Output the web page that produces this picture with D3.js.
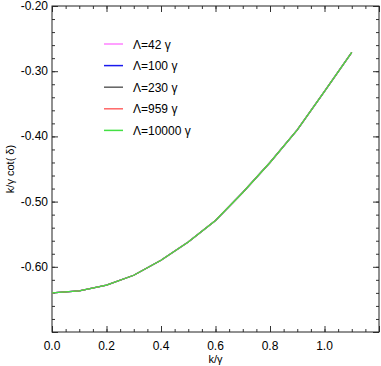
<!DOCTYPE html>
<html>
<head>
<meta charset="utf-8">
<script src="https://cdn.jsdelivr.net/npm/d3@7"></script>
<style>
  body { margin: 0; background: #fff; }
  text { font-family: "Liberation Sans", Arial, sans-serif; }
</style>
</head>
<body>
<script>
// k/gamma values
var kValues = [0.0, 0.1, 0.2, 0.3, 0.4, 0.5, 0.6, 0.7, 0.8, 0.9, 1.0, 1.1];
// k/gamma cot(delta), curves for each cutoff lie on top of each other
var curve42 = [-0.640, -0.637, -0.628, -0.613, -0.590, -0.562, -0.529, -0.486, -0.440, -0.390, -0.331, -0.271];
var curve100 = [-0.640, -0.637, -0.628, -0.613, -0.590, -0.562, -0.529, -0.486, -0.440, -0.390, -0.331, -0.271];
var curve230 = [-0.640, -0.637, -0.628, -0.613, -0.590, -0.562, -0.529, -0.486, -0.440, -0.390, -0.331, -0.271];
var curve959 = [-0.640, -0.637, -0.628, -0.613, -0.590, -0.562, -0.529, -0.486, -0.440, -0.390, -0.331, -0.271];
var curve10000 = [-0.640, -0.637, -0.628, -0.613, -0.590, -0.562, -0.529, -0.486, -0.440, -0.390, -0.331, -0.271];
var seriesNames = ["\u039B=42 \u03B3", "\u039B=100 \u03B3", "\u039B=230 \u03B3", "\u039B=959 \u03B3", "\u039B=10000 \u03B3"];
var xTickLabels = [0.0, 0.2, 0.4, 0.6, 0.8, 1.0];
var yTickLabels = [-0.20, -0.30, -0.40, -0.50, -0.60];

var colors = ["#ff80ff", "#1a1aee", "#606060", "#ff6666", "#44e044"];
var allCurves = [curve42, curve100, curve230, curve959, curve10000];

var svgWidth = 381;
var svgHeight = 366;
var margin = { top: 6, right: 2, bottom: 34, left: 52 };
var chartWidth = svgWidth - margin.left - margin.right;
var chartHeight = svgHeight - margin.top - margin.bottom;

var svg = d3.select("body")
  .append("svg")
  .attr("width", svgWidth)
  .attr("height", svgHeight);

var chartGroup = svg.append("g")
  .attr("transform", `translate(${margin.left}, ${margin.top})`);

var xScale = d3.scaleLinear().domain([0, 1.2]).range([0, chartWidth]);
var yScale = d3.scaleLinear().domain([-0.70, -0.20]).range([chartHeight, 0]);

var minorX = d3.range(0, 1.2001, 0.05);
var minorY = d3.range(-0.70, -0.1999, 0.02);
var majorX = d3.range(0, 1.2001, 0.2);
var majorY = d3.range(-0.70, -0.1999, 0.1);

// ticks pointing inward on all four sides
function drawTicks(axisFn, scale, values, size, transform) {
  chartGroup.append("g")
    .attr("transform", transform)
    .call(axisFn(scale).tickValues(values).tickSize(size).tickFormat(""))
    .call(g => g.select(".domain").remove())
    .selectAll("line").attr("stroke", "#333");
}
drawTicks(d3.axisBottom, xScale, minorX, -3, `translate(0, ${chartHeight})`);
drawTicks(d3.axisBottom, xScale, majorX, -6, `translate(0, ${chartHeight})`);
drawTicks(d3.axisTop, xScale, minorX, -3, "translate(0,0)");
drawTicks(d3.axisTop, xScale, majorX, -6, "translate(0,0)");
drawTicks(d3.axisLeft, yScale, minorY, -3, "translate(0,0)");
drawTicks(d3.axisLeft, yScale, majorY, -6, "translate(0,0)");
drawTicks(d3.axisRight, yScale, minorY, -3, `translate(${chartWidth},0)`);
drawTicks(d3.axisRight, yScale, majorY, -6, `translate(${chartWidth},0)`);

// frame
chartGroup.append("rect")
  .attr("width", chartWidth)
  .attr("height", chartHeight)
  .attr("fill", "none")
  .attr("stroke", "#222")
  .attr("stroke-width", 1);

// tick labels
chartGroup.append("g")
  .selectAll("text")
  .data(xTickLabels)
  .enter()
  .append("text")
  .attr("x", d => xScale(d))
  .attr("y", chartHeight + 18)
  .attr("text-anchor", "middle")
  .attr("font-size", 12)
  .text(d => d.toFixed(1));

chartGroup.append("g")
  .selectAll("text")
  .data(yTickLabels)
  .enter()
  .append("text")
  .attr("x", -4)
  .attr("y", d => yScale(d) + 4)
  .attr("text-anchor", "end")
  .attr("font-size", 12)
  .text(d => d.toFixed(2));

// axis titles
svg.append("text")
  .attr("x", margin.left + xScale(0.6))
  .attr("y", 363)
  .attr("text-anchor", "middle")
  .attr("font-size", 11)
  .text("k/\u03B3");

svg.append("text")
  .attr("transform", `translate(14, ${margin.top + yScale(-0.45)}) rotate(-90)`)
  .attr("text-anchor", "middle")
  .attr("font-size", 11)
  .text("k/\u03B3 cot( \u03B4)");

// curves
var line = d3.line()
  .x((d, i) => xScale(kValues[i]))
  .y(d => yScale(d));

allCurves.forEach(function(curve, i) {
  chartGroup.append("path")
    .datum(curve)
    .attr("fill", "none")
    .attr("stroke", colors[i])
    .attr("stroke-width", 1.3)
    .attr("d", line);
});

// legend
var legend = chartGroup.append("g")
  .attr("transform", "translate(52, 38)");

seriesNames.forEach(function(name, i) {
  var row = legend.append("g").attr("transform", `translate(0, ${i * 21.6})`);
  row.append("line")
    .attr("x1", 0).attr("x2", 19)
    .attr("y1", 0).attr("y2", 0)
    .attr("stroke", colors[i])
    .attr("stroke-width", 1.5);
  row.append("text")
    .attr("x", 29)
    .attr("y", 4.5)
    .attr("font-size", 12)
    .text(name);
});
</script>
</body>
</html>
